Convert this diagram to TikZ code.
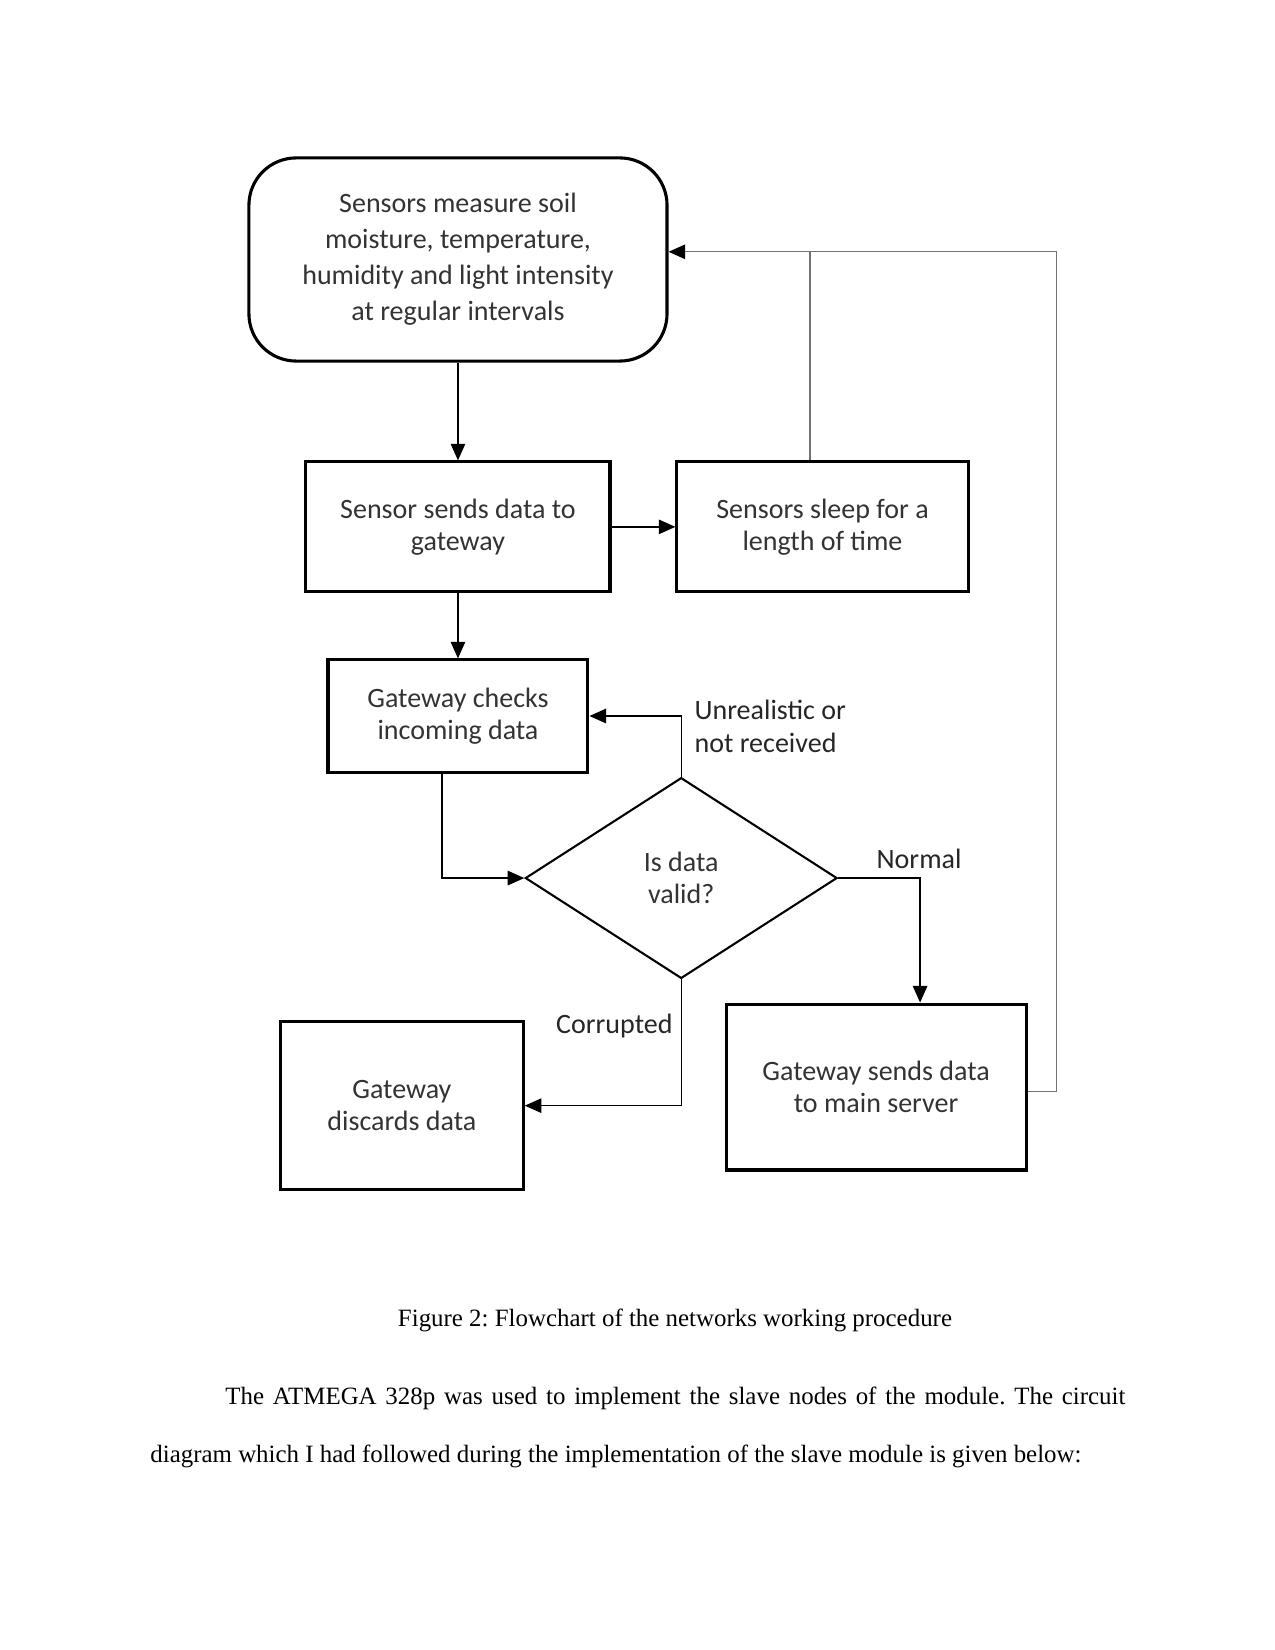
\documentclass[tikz,border=0pt]{standalone}
\usepackage{fontspec}
\setmainfont{Carlito}
\newfontfamily\bodyfont{Liberation Serif}
\frenchspacing
\usetikzlibrary{positioning,arrows.meta,shapes.geometric}

\begin{document}
\begin{tikzpicture}[
  font=\fontsize{13.5}{15.5}\selectfont,
  block/.style={draw, line width=1.5pt, align=center, inner sep=2pt, text=black!80},
  decision/.style={draw, diamond, line width=1pt, align=center, inner sep=0pt, text=black!80,
    minimum width=5.28cm, minimum height=3.40cm},
  flow/.style={-{Triangle[length=8pt,width=7pt]}, line width=0.6pt},
  back/.style={line width=0.6pt, black!55},
  note/.style={align=left, inner sep=0pt, text=black!85},
  para/.style={font=\bodyfont\fontsize{12}{14}\selectfont, inner sep=0pt, anchor=base west}
]
\useasboundingbox (0,0) rectangle (21.59,-27.94);
\node[block, rounded corners=0.8cm, minimum width=7.08cm, minimum height=3.44cm,
  font=\fontsize{13.5}{17.4}\selectfont] (S) at (7.755,-4.394)
  {Sensors measure soil\\ moisture, temperature,\\ humidity and light intensity\\ at regular intervals};
\node[block, minimum width=5.15cm, minimum height=2.20cm, below=1.655cm of S] (send) {Sensor sends data to\\ gateway};
\node[block, minimum width=4.93cm, minimum height=2.20cm, right=1.08cm of send] (sleep) {Sensors sleep for a\\ length of time};
\node[block, minimum width=4.40cm, minimum height=1.90cm, below=1.10cm of send] (check) {Gateway checks\\ incoming data};
\node[decision, below=0.05cm of check.south, xshift=3.78cm] (valid) {Is data\\ valid?};
\node[block, minimum width=5.08cm, minimum height=2.81cm, below=0.39cm of valid.south, xshift=3.30cm] (server) {Gateway sends data\\ to main server};
\node[block, minimum width=4.11cm, minimum height=2.84cm, below=0.69cm of valid.south, xshift=-4.73cm] (discard) {Gateway\\ discards data};
% branch labels
\node[note, anchor=west] (unreal) at ([xshift=0.22cm,yshift=0.85cm]valid.north) {Unrealistic or\\ not received};
\node[note] (normal) at ([xshift=1.37cm,yshift=0.32cm]valid.east) {Normal};
\node[note, anchor=east] (corrupt) at ([xshift=-0.14cm,yshift=-0.78cm]valid.south) {Corrupted};
\draw[flow] (S) -- (send);
\draw[flow] (send) -- (sleep);
\draw[flow] (send) -- (check);
\draw[flow] ([xshift=-0.27cm]check.south) |- (valid.west);
\draw[flow] (valid.north) |- (check.east);
\draw[flow] (valid.east) -| ([xshift=0.745cm]server.north);
\draw[flow] (valid.south) |- (discard.east);
% loop back to the sensors
\coordinate (ret) at ([yshift=0.13cm]S.east);
\draw[back] ([xshift=-0.21cm]sleep.north) -- ([xshift=-0.21cm]sleep.north |- ret);
\draw[back, -{Triangle[length=8pt,width=7pt,color=black]}] ([yshift=-0.08cm]server.east) -- ++(0.49,0) |- (ret);
% caption and text
\node[para, anchor=base] (cap) at (11.43,-22.47) {Figure 2: Flowchart of the networks working procedure};
\node[para] (line1) at (3.81,-23.79) {\makebox[15.24cm][s]{The ATMEGA 328p was used to implement the slave nodes of the module. The circuit}};
\node[para] (line2) at (2.54,-24.77) {diagram which I had followed during the implementation of the slave module is given below:};
\end{tikzpicture}
\end{document}
